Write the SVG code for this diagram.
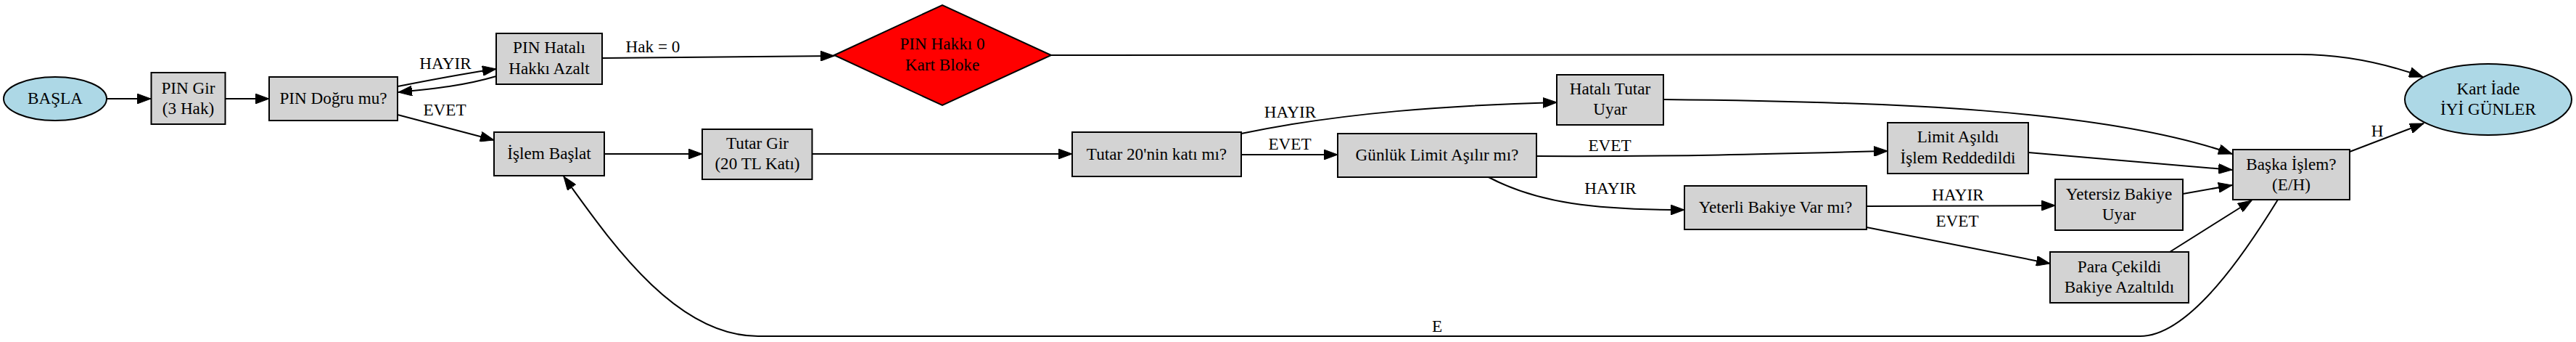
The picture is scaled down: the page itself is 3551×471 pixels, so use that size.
<svg xmlns="http://www.w3.org/2000/svg" width="3551" height="471" viewBox="0 0 3551 471">
<style>
.box{fill:#d3d3d3;stroke:#000;stroke-width:2}
.term{fill:#add8e6;stroke:#000;stroke-width:2}
.alert{fill:#ff0000;stroke:#000;stroke-width:2}
text{font-family:"Liberation Serif","Times New Roman",serif;font-size:23.2px;fill:#000;text-anchor:middle}
.edge{fill:none;stroke:#000;stroke-width:2;marker-end:url(#arr)}
</style>
<defs>
<marker id="arr" markerUnits="userSpaceOnUse" markerWidth="20" markerHeight="14" refX="19" refY="7" orient="auto">
<path d="M0,0 L19,7 L0,14 z" fill="#000" stroke="#000" stroke-width="1"/>
</marker>
</defs>
<rect width="3551" height="471" fill="#fff"/>
<g id="connectors">
<path class="edge" d="M147,136 L208,136"/>
<path class="edge" d="M310.5,136 L371,136"/>
<path class="edge" d="M548,119 C600,109 640,101 684,95"/>
<text x="614" y="95">HAYIR</text>
<path class="edge" d="M684,105 C640,118 600,122 549,127"/>
<path class="edge" d="M548,158 L681,193"/>
<text x="613" y="159">EVET</text>
<path class="edge" d="M830,80 L1150,77"/>
<text x="900" y="72">Hak = 0</text>
<path class="edge" d="M833,212 L968,212"/>
<path class="edge" d="M1119.5,212 L1478,212"/>
<path class="edge" d="M1711,184 C1850,155 2000,145 2146,141"/>
<text x="1778.5" y="162">HAYIR</text>
<path class="edge" d="M1711,213 L1844,213"/>
<text x="1778" y="206">EVET</text>
<path class="edge" d="M2118,215 C2300,216 2450,212 2602,208"/>
<text x="2219" y="208">EVET</text>
<path class="edge" d="M2052,244 C2120,280 2200,289 2322,289"/>
<text x="2220" y="267">HAYIR</text>
<path class="edge" d="M1449,76 L3170,75 C3230,75 3290,88 3340,106"/>
<path class="edge" d="M2293,137 C2600,140 2900,150 3077,212"/>
<path class="edge" d="M2796,210 L3077,234"/>
<path class="edge" d="M2573,284 L2833,283"/>
<text x="2699" y="276">HAYIR</text>
<path class="edge" d="M2573,313 L2826,363"/>
<text x="2698" y="312">EVET</text>
<path class="edge" d="M3009,267 L3077,255"/>
<path class="edge" d="M2991,347 L3104,276"/>
<path class="edge" d="M3239,209 L3341,170"/>
<text x="3277" y="188">H</text>
<path class="edge" d="M3140,275 C3100,340 3020,463 2950,463 L1045,463 C930,463 840,330 777,243"/>
<text x="1981" y="457">E</text>
</g>
<g id="basla"><ellipse class="term" cx="76" cy="136" rx="71" ry="30"/><text x="76" y="143">BAŞLA</text></g>
<g id="pin_gir"><rect class="box" x="208.5" y="100" width="102" height="71"/><text x="259.5" y="128.5">PIN Gir</text><text x="259.5" y="157">(3 Hak)</text></g>
<g id="pin_dogru"><rect class="box" x="371" y="106" width="177" height="60"/><text x="459.5" y="143">PIN Doğru mu?</text></g>
<g id="pin_hatali"><rect class="box" x="684" y="46" width="146" height="70"/><text x="757" y="73">PIN Hatalı</text><text x="757" y="102">Hakkı Azalt</text></g>
<g id="kart_bloke"><polygon class="alert" points="1150,76 1299,7 1449,76 1299,145"/><text x="1299" y="68">PIN Hakkı 0</text><text x="1299" y="97">Kart Bloke</text></g>
<g id="islem_baslat"><rect class="box" x="681" y="182" width="152" height="60"/><text x="757" y="219">İşlem Başlat</text></g>
<g id="tutar_gir"><rect class="box" x="968" y="178" width="151.5" height="69"/><text x="1044" y="205">Tutar Gir</text><text x="1044" y="233">(20 TL Katı)</text></g>
<g id="tutar_20"><rect class="box" x="1478" y="182" width="233" height="61"/><text x="1594.5" y="219.5">Tutar 20'nin katı mı?</text></g>
<g id="hatali_tutar"><rect class="box" x="2146" y="103" width="147" height="69"/><text x="2219.5" y="130">Hatalı Tutar</text><text x="2219.5" y="158">Uyar</text></g>
<g id="gunluk"><rect class="box" x="1844" y="184" width="274" height="60"/><text x="1981" y="221">Günlük Limit Aşılır mı?</text></g>
<g id="limit_asildi"><rect class="box" x="2602" y="169" width="194" height="70"/><text x="2699" y="196">Limit Aşıldı</text><text x="2699" y="225">İşlem Reddedildi</text></g>
<g id="yeterli"><rect class="box" x="2322" y="256" width="251" height="60"/><text x="2447.5" y="293">Yeterli Bakiye Var mı?</text></g>
<g id="yetersiz"><rect class="box" x="2833" y="247" width="176" height="70"/><text x="2921" y="275">Yetersiz Bakiye</text><text x="2921" y="303">Uyar</text></g>
<g id="para"><rect class="box" x="2826" y="347" width="191" height="70"/><text x="2921.5" y="375">Para Çekildi</text><text x="2921.5" y="403">Bakiye Azaltıldı</text></g>
<g id="baska"><rect class="box" x="3078" y="206" width="161" height="69"/><text x="3158.5" y="233.5">Başka İşlem?</text><text x="3158.5" y="262">(E/H)</text></g>
<g id="kart_iade"><ellipse class="term" cx="3430" cy="137" rx="115" ry="49"/><text x="3430" y="130">Kart İade</text><text x="3430" y="158">İYİ GÜNLER</text></g>
</svg>
